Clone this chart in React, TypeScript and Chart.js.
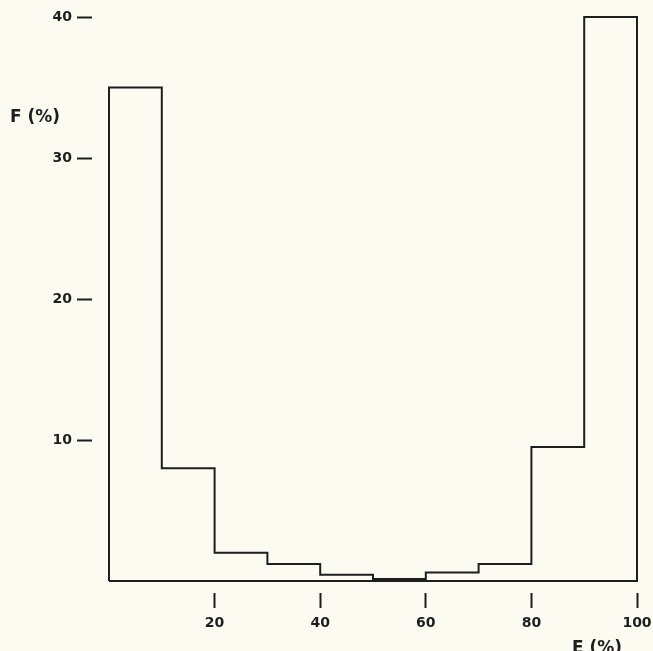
import React, { useEffect, useRef } from "react";
import { Chart, registerables } from "chart.js";

Chart.register(...registerables);

// Histogram data: bin starts (E, %), bin width 10, relative frequency F (%)
const binStarts = [0, 10, 20, 30, 40, 50, 60, 70, 80, 90];
const binEnd = 100;
const frequency = [35.0, 8.0, 2.0, 1.2, 0.45, 0.15, 0.6, 1.2, 9.5, 40.0];

const xTickValues = [20, 40, 60, 80, 100];
const yTickValues = [10, 20, 30, 40];

const xTitle = "E (%)";
const yTitle = "F (%)";

const INK = "#1e1e1e";
const PAPER = "#fcfbf2";
const FONT = "'DejaVu Sans', sans-serif";

const axisTitles = {
  id: "axisTitles",
  afterDraw(chart: any) {
    const { ctx, chartArea } = chart;
    ctx.save();
    ctx.fillStyle = INK;
    ctx.font = `bold 17px ${FONT}`;
    ctx.textAlign = "left";
    ctx.textBaseline = "alphabetic";
    ctx.fillText(yTitle, 10, 122);
    ctx.fillText(xTitle, chartArea.right - 65, chart.height + 2);
    ctx.restore();
  },
};

export default function App() {
  const ref = useRef<HTMLCanvasElement | null>(null);

  useEffect(() => {
    if (!ref.current) return;
    const points = [
      { x: binStarts[0], y: 0 },
      ...binStarts.map((x, i) => ({ x, y: frequency[i] })),
      { x: binEnd, y: frequency[frequency.length - 1] },
      { x: binEnd, y: 0 },
      { x: binStarts[0], y: 0 },
    ];
    const chart = new Chart(ref.current, {
      type: "line",
      data: {
        datasets: [
          {
            data: points,
            stepped: "before",
            borderColor: INK,
            borderWidth: 2,
            pointRadius: 0,
            fill: false,
            tension: 0,
            clip: false as any,
          },
        ],
      },
      options: {
        animation: false,
        responsive: true,
        maintainAspectRatio: false,
        layout: { padding: { top: 17, right: 16, left: 0, bottom: 0 } },
        plugins: { legend: { display: false }, tooltip: { enabled: false } },
        scales: {
          x: {
            type: "linear",
            min: 0,
            max: 100,
            border: { display: false },
            afterBuildTicks: (scale: any) => {
              scale.ticks = xTickValues.map((v) => ({ value: v }));
            },
            afterFit: (scale: any) => {
              scale.height = 70;
              scale.paddingLeft = 0;
              scale.paddingRight = 0;
            },
            grid: {
              drawOnChartArea: false,
              drawTicks: true,
              tickLength: 27,
              tickWidth: 2,
              tickColor: INK,
              tickBorderDash: [15, 12],
              tickBorderDashOffset: 15,
            },
            ticks: {
              autoSkip: false,
              maxRotation: 0,
              padding: 7,
              color: INK,
              font: { family: FONT, size: 14, weight: "bold" },
            },
          },
          y: {
            type: "linear",
            min: 0,
            max: 40,
            border: { display: false },
            afterBuildTicks: (scale: any) => {
              scale.ticks = yTickValues.map((v) => ({ value: v }));
            },
            afterFit: (scale: any) => {
              scale.width = 109;
            },
            grid: {
              drawOnChartArea: false,
              drawTicks: true,
              tickLength: 32,
              tickWidth: 2,
              tickColor: INK,
              tickBorderDash: [15, 40],
              tickBorderDashOffset: 0,
            },
            ticks: {
              autoSkip: false,
              padding: 5,
              color: INK,
              font: { family: FONT, size: 14, weight: "bold" },
            },
          },
        },
      },
      plugins: [axisTitles],
    });
    return () => chart.destroy();
  }, []);

  return (
    <div
      style={{
        position: "fixed",
        left: 0,
        top: 0,
        width: 653,
        height: 651,
        background: PAPER,
      }}
    >
      <canvas ref={ref} />
    </div>
  );
}
